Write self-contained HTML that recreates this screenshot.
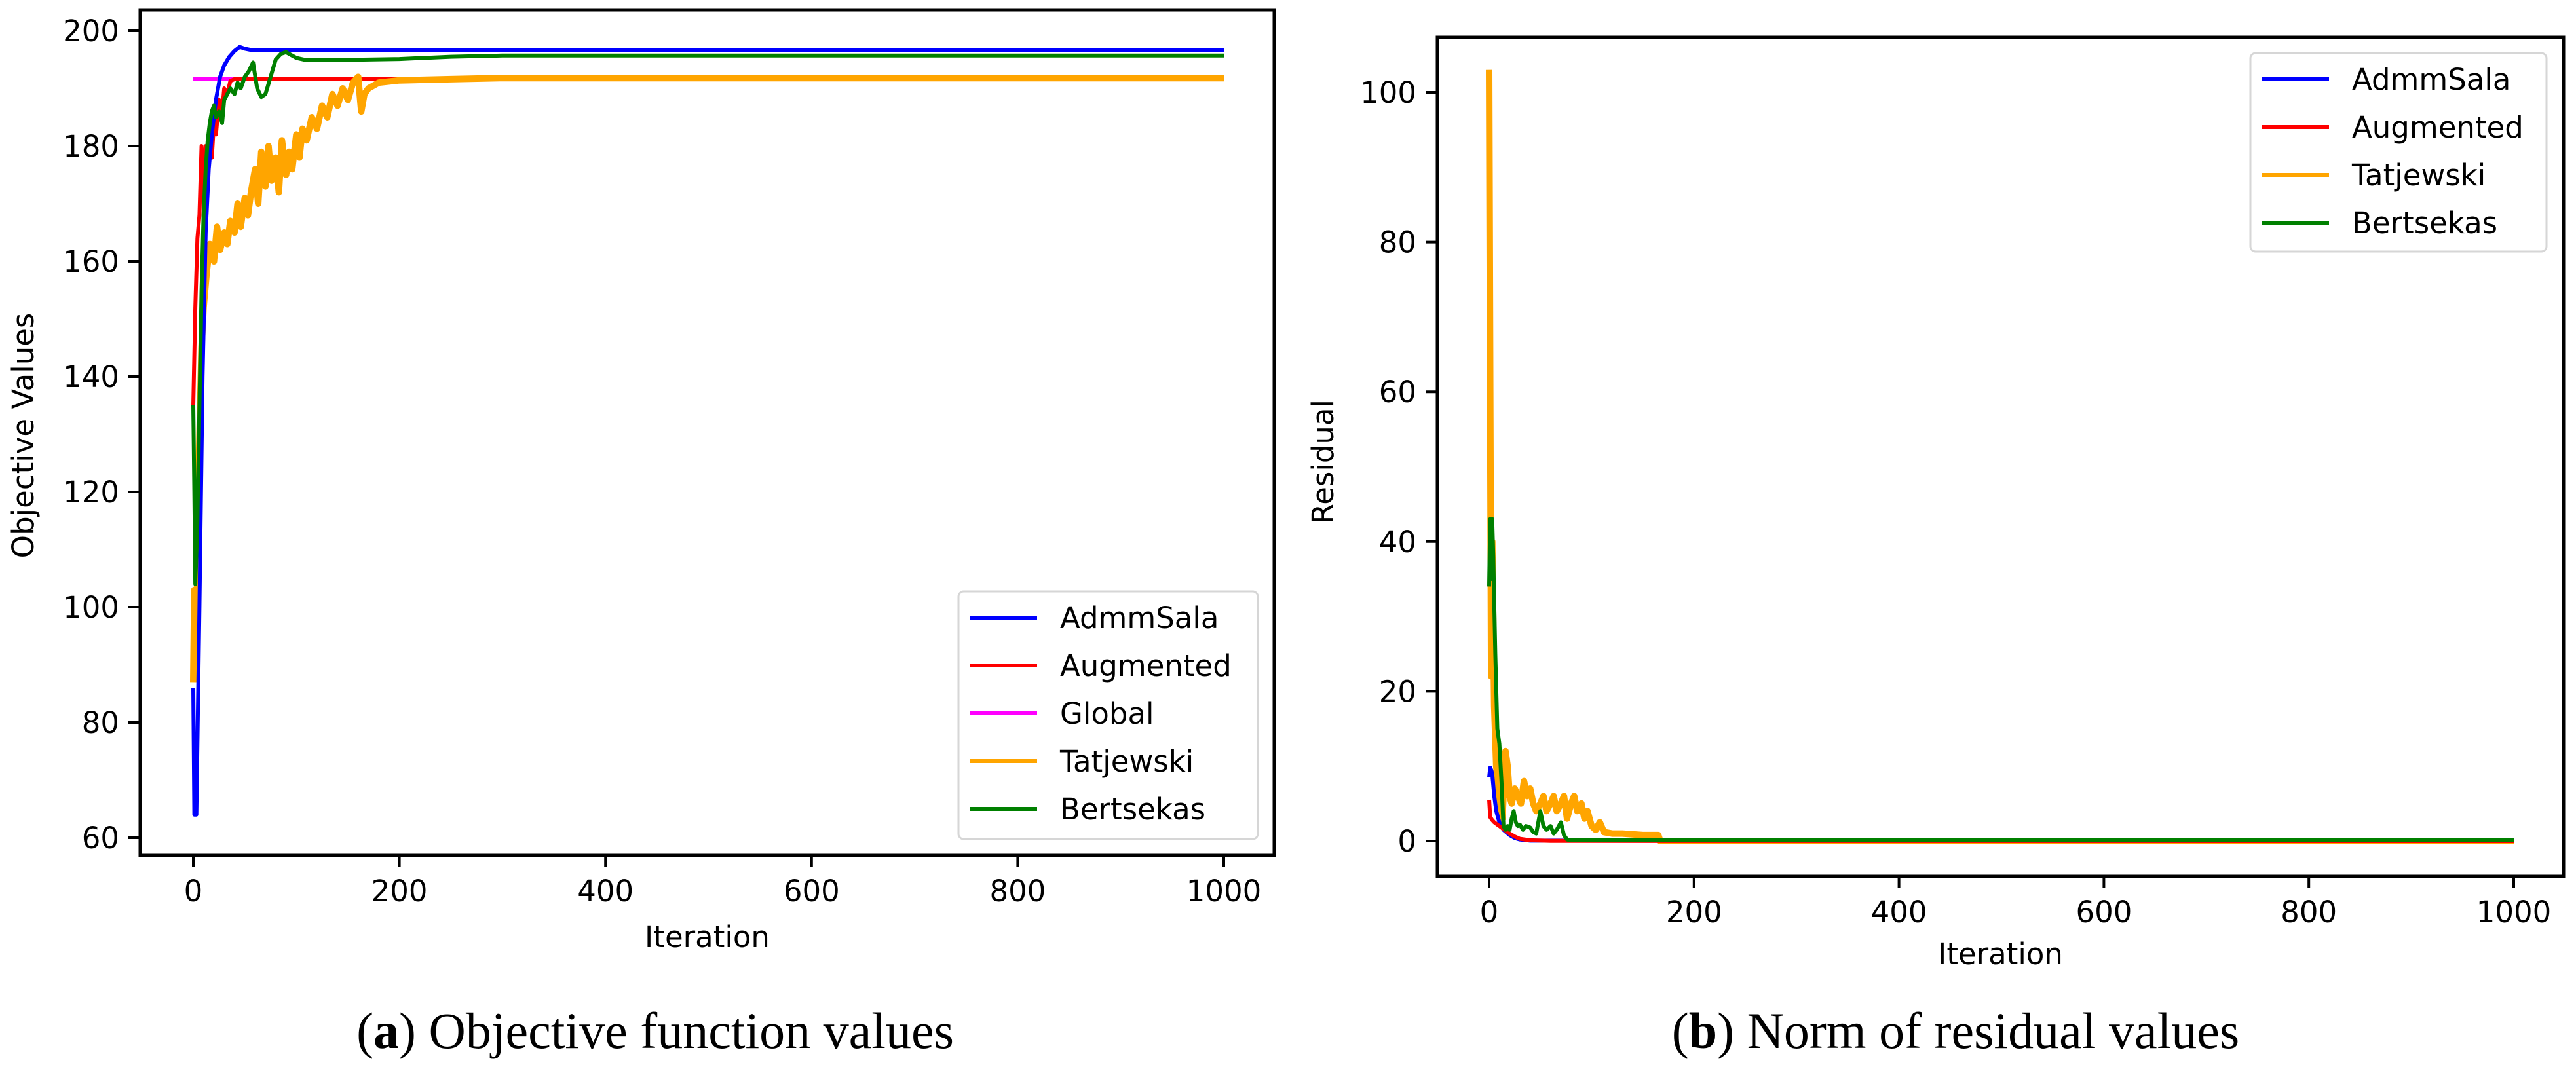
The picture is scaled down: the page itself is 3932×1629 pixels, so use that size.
<!DOCTYPE html>
<html><head><meta charset="utf-8"><style>
html,body{margin:0;padding:0;background:#fff;}
svg{display:block;}
.tk{font-family:"DejaVu Sans","Liberation Sans",sans-serif;font-size:45px;fill:#000;}
.cap{font-family:"Liberation Serif",serif;font-size:78px;fill:#000;}
</style></head><body>
<svg id="fig" width="3932" height="1629" viewBox="0 0 3932 1629" xmlns="http://www.w3.org/2000/svg">
<g id="left"></g>
<g id="right"></g>
<text class="cap" x="1000" y="1600" text-anchor="middle">(<tspan font-weight="bold">a</tspan>) Objective function values</text>
<text class="cap" x="2985" y="1600" text-anchor="middle">(<tspan font-weight="bold">b</tspan>) Norm of residual values</text>
</svg>
<script>
// ---- Left chart data ----
const xTicks = [0,200,400,600,800,1000];
const yTicksA = [60,80,100,120,140,160,180,200];
const yTicksB = [0,20,40,60,80,100];
const admmA_x = [0,1,3,6,9,12,15,18,22,26,30,35,40,45,50,55,1000];
const admmA_y = [86,64,64,100,140,165,176,182,188,192,194,195.5,196.5,197.2,196.9,196.7,196.7];
const augA_x = [0,2,4,6,8,10,12,14,16,18,20,22,25,28,30,33,36,40,50,1000];
const augA_y = [135,152,164,168,180,171,180,175,181,178,184,182,188,186,190,189,191.3,191.6,191.7,191.7];
const globA_x = [0,1000];
const globA_y = [191.7,191.7];
const tatA_x = [0,1,3,5,8,10,13,16,20,23,26,30,33,36,40,43,46,50,53,56,60,63,66,70,73,76,80,83,86,90,93,96,100,103,106,110,115,120,125,130,135,140,145,150,155,160,163,166,170,180,200,250,300,1000];
const tatA_y = [87,103,90,122,145,152,158,163,160,166,162,165,163,167,165,170,166,171,168,172,176,170,179,173,180,174,178,172,181,175,179,176,182,178,183,181,185,183,187,185,189,187,190,188,191,192,186,189,190,191,191.4,191.6,191.8,191.8];
const berA_x = [0,1,2,4,6,8,10,12,14,16,18,20,22,25,28,30,33,36,40,43,46,50,54,58,62,66,70,75,80,85,90,95,100,110,130,200,250,300,1000];
const berA_y = [135,120,104,115,135,155,168,176,181,184,186,187,185,186,184,188,189,190,189,191,190,192,193,194.5,190,188.5,189,192,195,196,196.3,195.8,195.3,194.9,194.9,195.1,195.5,195.7,195.7];
// ---- Right chart data ----
const admmB_x = [0,1,2,3,5,7,10,14,20,25,30,40,1000];
const admmB_y = [8.5,9.8,9.5,9,6,4,2.5,1.5,0.8,0.4,0.2,0.05,0];
const augB_x = [0,1,3,5,8,10,15,20,25,30,40,60,1000];
const augB_y = [5.5,3.2,2.8,2.5,2.2,2,1.5,1,0.6,0.3,0.1,0.02,0];
const tatB_x = [0,1,2,3,5,7,10,13,16,18,20,22,25,28,31,34,37,40,43,46,50,53,56,60,63,66,70,73,76,80,83,86,90,93,96,100,104,108,112,120,130,140,150,160,165,167,1000];
const tatB_y = [103,60,22,40,18,10,5,3,12,10,6,5,7,6,5,8,6,7,5,4,5,6,4,5,6,4,5,6,3,5,6,4,5,3,4,2,1.5,2.5,1.2,1,1,0.9,0.8,0.8,0.8,0,0];
const berB_x = [0,1,2,3,4,6,8,10,12,14,16,18,20,22,24,26,28,30,33,36,40,43,46,50,53,56,60,63,66,70,73,76,80,1000];
const berB_y = [34,43,35,43,38,25,15,13,8,2,1.5,2,1.5,3,4,2.5,2,2.2,1.5,2,1.8,1.2,1,4,2,1.5,2,1,1.5,2.5,0.8,0.2,0.1,0.1];

const NS = 'http://www.w3.org/2000/svg';
function mk(parent, tag, attrs){const e=document.createElementNS(NS,tag);for(const k in attrs)e.setAttribute(k,attrs[k]);parent.appendChild(e);return e;}

function drawChart(g, cfg){
  const sx = v => cfg.x0 + (v - 0) * (cfg.x1000 - cfg.x0) / 1000;
  const sy = v => cfg.yA + (v - cfg.vA) * (cfg.yB - cfg.yA) / (cfg.vB - cfg.vA);
  cfg.series.forEach(s => {
    let d = '';
    for (let i = 0; i < s.x.length; i++) d += (i ? 'L' : 'M') + sx(s.x[i]).toFixed(1) + ',' + sy(s.y[i]).toFixed(1);
    const p = mk(g, 'path', {d: d, fill: 'none', stroke: s.c, 'stroke-width': s.w || 6, 'stroke-linejoin': 'round'});
    
    
  });
  const fr = mk(g, 'rect', {x: cfg.L, y: cfg.T, width: cfg.R - cfg.L, height: cfg.B - cfg.T, fill: 'none', stroke: '#000', 'stroke-width': 5});
  
  
  xTicks.forEach(t => {
    const x = sx(t);
    const l = mk(g, 'line', {x1: x, x2: x, y1: cfg.B, y2: cfg.B + 18, stroke: '#000', 'stroke-width': 4});
    
    
    const tx = mk(g, 'text', {x: x, y: cfg.B + 70, 'text-anchor': 'middle', class: 'tk'});
    tx.textContent = t;
    
    
  });
  cfg.yTicks.forEach(t => {
    const y = sy(t);
    const l = mk(g, 'line', {x1: cfg.L - 18, x2: cfg.L, y1: y, y2: y, stroke: '#000', 'stroke-width': 4});
    
    
    const tx = mk(g, 'text', {x: cfg.L - 32, y: y + 16, 'text-anchor': 'end', class: 'tk'});
    tx.textContent = t;
    
    
  });
  const xl = mk(g, 'text', {x: (cfg.L + cfg.R) / 2, y: cfg.xlabY, 'text-anchor': 'middle', class: 'tk'});
  xl.textContent = 'Iteration';
  
  
  const yl = mk(g, 'text', {x: 0, y: 0, 'text-anchor': 'middle', class: 'tk', transform: 'translate(' + cfg.ylabX + ',' + cfg.ylabY + ') rotate(-90)'});
  yl.textContent = cfg.ylab;
  
  
  const lg = mk(g, 'g', {});
  
  
  mk(lg, 'rect', {x: cfg.lgX, y: cfg.lgY, width: cfg.lgW, height: cfg.lgH, rx: 8, fill: '#fff', stroke: '#d6d6d6', 'stroke-width': 3});
  cfg.legend.forEach((s, i) => {
    const y = cfg.lgY + 40 + i * 73;
    const e = mk(lg, 'g', {});
    
    
    mk(e, 'line', {x1: cfg.lgX + 18, x2: cfg.lgX + 120, y1: y, y2: y, stroke: s.c, 'stroke-width': 6});
    const t = mk(e, 'text', {x: cfg.lgX + 155, y: y + 16, class: 'tk'});
    t.textContent = s.label;
  });
}

drawChart(document.getElementById('left'), {
  L: 214, R: 1945, T: 15, B: 1306, x0: 295, x1000: 1868,
  yA: 1279, vA: 60, yB: 47, vB: 200, yTicks: yTicksA,
  xlabY: 1446, ylab: 'Objective Values', ylabX: 51, ylabY: 665,
  lgX: 1463, lgY: 903, lgW: 457, lgH: 378,
  series: [
    {x: globA_x, y: globA_y, c: '#ff00ff', name: 'global-line'},
    {x: augA_x, y: augA_y, c: '#ff0000', name: 'augmented-line'},
    {x: tatA_x, y: tatA_y, c: '#ffa500', name: 'tatjewski-line', w: 10},
    {x: admmA_x, y: admmA_y, c: '#0000ff', name: 'admmsala-line'},
    {x: berA_x, y: berA_y, c: '#008000', name: 'bertsekas-line'}
  ],
  legend: [
    {label: 'AdmmSala', c: '#0000ff'}, {label: 'Augmented', c: '#ff0000'}, {label: 'Global', c: '#ff00ff'},
    {label: 'Tatjewski', c: '#ffa500'}, {label: 'Bertsekas', c: '#008000'}
  ]
});

drawChart(document.getElementById('right'), {
  L: 2194, R: 3913, T: 57, B: 1338, x0: 2273, x1000: 3837,
  yA: 1284, vA: 0, yB: 141, vB: 100, yTicks: yTicksB,
  xlabY: 1472, ylab: 'Residual', ylabX: 2035, ylabY: 705,
  lgX: 3435, lgY: 81, lgW: 452, lgH: 303,
  series: [
    {x: tatB_x, y: tatB_y, c: '#ffa500', name: 'tatjewski-line', w: 10},
    {x: admmB_x, y: admmB_y, c: '#0000ff', name: 'admmsala-line'},
    {x: augB_x, y: augB_y, c: '#ff0000', name: 'augmented-line'},
    {x: berB_x, y: berB_y, c: '#008000', name: 'bertsekas-line'}
  ],
  legend: [
    {label: 'AdmmSala', c: '#0000ff'}, {label: 'Augmented', c: '#ff0000'},
    {label: 'Tatjewski', c: '#ffa500'}, {label: 'Bertsekas', c: '#008000'}
  ]
});
</script>
</body></html>
